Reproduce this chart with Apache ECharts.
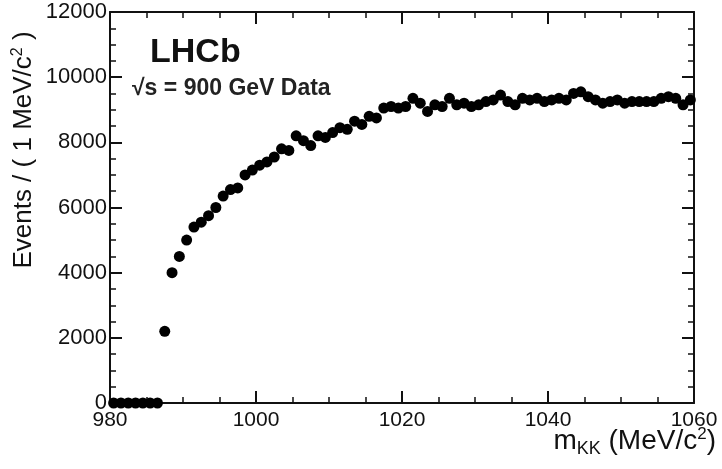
<!DOCTYPE html>
<html>
<head>
<meta charset="utf-8">
<script src="https://cdn.jsdelivr.net/npm/echarts@6/dist/echarts.min.js"></script>
<style>
  html, body { margin: 0; padding: 0; background: #fff; }
  #chart { width: 722px; height: 469px; }
</style>
</head>
<body>
<div id="chart"></div>
<script>
// bin centres, 1 MeV wide bins
var massBins = [];
for (var m = 980.5; m < 1060; m += 1) massBins.push(m);

// events per bin
var events = [
  0, 0, 0, 0, 0, 0, 0,
  2200, 4000, 4500, 5000, 5400, 5550, 5750, 6000, 6350, 6550, 6600,
  7000, 7150, 7300, 7400, 7550, 7800, 7750, 8200, 8050, 7900,
  8200, 8150, 8300, 8450, 8400, 8650, 8550, 8800, 8750, 9050,
  9100, 9050, 9100, 9350, 9200, 8950, 9150, 9100, 9350, 9150,
  9200, 9100, 9150, 9250, 9300, 9450, 9250, 9150, 9350, 9300,
  9350, 9250, 9300, 9350, 9300, 9500, 9550, 9400, 9300, 9200,
  9250, 9300, 9200, 9250, 9250, 9250, 9250, 9350, 9400, 9350,
  9150, 9300
];

var points = massBins.map(function (x, i) { return [x, events[i]]; });

var font = 'Liberation Sans';
var tickCol = '#111';
var txtCol = '#111';

function frameAxis(pos, isX) {
  return {
    type: 'value',
    position: pos,
    min: isX ? 980 : 0,
    max: isX ? 1060 : 12000,
    interval: isX ? 20 : 2000,
    axisLine: { show: true, onZero: false, lineStyle: { color: tickCol, width: 2 } },
    axisTick: { show: true, inside: true, length: 12, lineStyle: { color: tickCol, width: 2 } },
    minorTick: { show: true, splitNumber: 4, length: 6, lineStyle: { color: tickCol, width: 1.5 } },
    axisLabel: { show: false },
    splitLine: { show: false }
  };
}

var plain = function (v) { return String(v); };
var xMain = frameAxis('bottom', true);
xMain.axisLabel = { show: true, fontFamily: font, fontSize: 21, color: txtCol, margin: 7, formatter: plain };
var yMain = frameAxis('left', false);
yMain.axisLabel = { show: true, fontFamily: font, fontSize: 22, color: txtCol, margin: 3, formatter: plain };

var chart = echarts.init(document.getElementById('chart'));
chart.setOption({
  animation: false,
  grid: { left: 110, right: 28, top: 12, bottom: 66 },
  xAxis: [xMain, frameAxis('top', true)],
  yAxis: [yMain, frameAxis('right', false)],
  series: [{
    type: 'scatter',
    data: points,
    symbol: 'circle',
    symbolSize: 11,
    clip: false,
    itemStyle: { color: '#000', opacity: 1 }
  }],
  graphic: [
    {
      type: 'text', left: 150, top: 36,
      style: { text: 'LHCb', fontFamily: font, fontSize: 34, fontWeight: 'bold', fill: txtCol }
    },
    {
      type: 'text', left: 132, top: 77,
      style: {
        text: '√s = 900 GeV Data',
        fontFamily: font, fontSize: 23, fontWeight: 'bold', fill: '#222'
      }
    },
    {
      type: 'text', x: 24, y: 150, rotation: Math.PI / 2,
      style: {
        text: 'Events / ( 1 MeV/c{sup|2} )',
        fontFamily: font, fontSize: 26, fill: txtCol,
        align: 'center', verticalAlign: 'middle',
        rich: { sup: { fontFamily: font, fontSize: 16, fill: txtCol, padding: [0, 0, 13, 0] } }
      }
    },
    {
      type: 'text', right: 6, top: 426,
      style: {
        text: 'm{sub|KK} (MeV/c{sup|2})',
        fontFamily: font, fontSize: 28, fill: txtCol,
        rich: {
          sub: { fontFamily: font, fontSize: 18, fill: txtCol, padding: [16, 0, 0, 0] },
          sup: { fontFamily: font, fontSize: 17, fill: txtCol, padding: [0, 0, 14, 0] }
        }
      }
    }
  ]
});
</script>
</body>
</html>
